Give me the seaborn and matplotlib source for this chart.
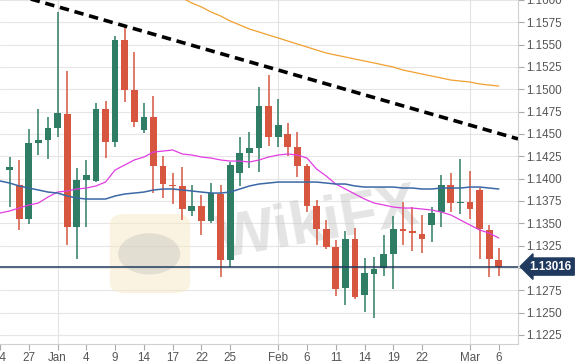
import numpy as np
import pandas as pd
import matplotlib
matplotlib.use("Agg")
import matplotlib.pyplot as plt
import matplotlib.transforms as mtransforms
from matplotlib.patches import FancyBboxPatch, Circle
import seaborn as sns

# ---------------- data ----------------
tick_pos = [0, 3, 6, 9, 12, 15, 18, 21, 24, 29, 32, 35, 38, 41, 44, 49, 52]
tick_labels = ["24", "27", "Jan", "4", "9", "14", "17", "22", "25", "Feb",
               "6", "11", "14", "19", "22", "Mar", "6"]
month_lines = [6, 29, 49]

candle_idx = list(range(1, 53))
opens = [1.14097, 1.13929, 1.13548, 1.14399, 1.14433, 1.14567, 1.14724, 1.13459, 1.13985, 1.13974,
         1.14780, 1.14410, 1.15552, 1.14992, 1.14545, 1.14690, 1.14141, 1.13929, 1.13918, 1.13638,
         1.13694, 1.13526, 1.13828, 1.13089, 1.14063, 1.14287, 1.14343, 1.14813, 1.14466, 1.14500,
         1.14354, 1.14141, 1.13694, 1.13436, 1.13235, 1.12776, 1.13324, 1.12697, 1.12932, 1.13000,
         1.13156, 1.13436, 1.13414, 1.13380, 1.13481, 1.13626, 1.13929, 1.13727, 1.13738, 1.13873,
         1.13425, 1.13089]
highs = [1.14242, 1.14209, 1.14556, 1.14780, 1.14690, 1.15866, 1.15205, 1.14119, 1.14209, 1.14847,
         1.14869, 1.15597, 1.15720, 1.15418, 1.14847, 1.14925, 1.14253, 1.14063, 1.14130, 1.13929,
         1.13817, 1.13951, 1.13929, 1.14186, 1.14466, 1.14522, 1.15026, 1.15160, 1.14892, 1.14623,
         1.14522, 1.14164, 1.13761, 1.13537, 1.13313, 1.13414, 1.13447, 1.13111, 1.13123, 1.13369,
         1.13582, 1.13738, 1.13682, 1.13593, 1.13682, 1.14041, 1.14063, 1.14220, 1.14086, 1.13890,
         1.13481, 1.13223]
lows = [1.13682, 1.13425, 1.13492, 1.14265, 1.14220, 1.14466, 1.13257, 1.13100, 1.13459, 1.13962,
        1.14231, 1.14354, 1.14858, 1.14578, 1.14511, 1.13839, 1.13783, 1.13716, 1.13537, 1.13582,
        1.13369, 1.13503, 1.12899, 1.13011, 1.13918, 1.14119, 1.14074, 1.14365, 1.14354, 1.14253,
        1.14018, 1.13626, 1.13257, 1.13212, 1.12686, 1.12585, 1.12652, 1.12507, 1.12440, 1.12910,
        1.12764, 1.13257, 1.13190, 1.13167, 1.13291, 1.13459, 1.13626, 1.13604, 1.13548, 1.13100,
        1.12899, 1.12910]
closes = [1.14130, 1.13548, 1.14399, 1.14433, 1.14567, 1.14735, 1.13459, 1.13985, 1.14041, 1.14780,
          1.14410, 1.15552, 1.14992, 1.14634, 1.14690, 1.14141, 1.13940, 1.13918, 1.13660, 1.13694,
          1.13526, 1.13839, 1.13089, 1.14153, 1.14287, 1.14343, 1.14813, 1.14466, 1.14601, 1.14354,
          1.14141, 1.13694, 1.13436, 1.13235, 1.12764, 1.13324, 1.12675, 1.12944, 1.12988, 1.13156,
          1.13436, 1.13414, 1.13391, 1.13324, 1.13615, 1.13929, 1.13727, 1.13738, 1.13660, 1.13436,
          1.13100, 1.13016]

ma_idx = list(range(0, 53))
ma_magenta = [1.13615, 1.13638, 1.13671, 1.13705, 1.13727, 1.13794, 1.13850, 1.13862, 1.13884, 1.13895,
              1.13918, 1.13962, 1.14097, 1.14153, 1.14209, 1.14242, 1.14298, 1.14309, 1.14321, 1.14276,
              1.14265, 1.14242, 1.14231, 1.14209, 1.14197, 1.14197, 1.14186, 1.14209, 1.14242, 1.14265,
              1.14276, 1.14265, 1.14231, 1.14108, 1.14030, 1.13940, 1.13884, 1.13828, 1.13772, 1.13727,
              1.13705, 1.13682, 1.13671, 1.13671, 1.13660, 1.13649, 1.13626, 1.13593, 1.13537, 1.13481,
              1.13425, 1.13391, 1.13335]
ma_blue = [1.13974, 1.13951, 1.13918, 1.13895, 1.13873, 1.13850, 1.13839, 1.13806, 1.13783, 1.13772,
           1.13772, 1.13772, 1.13806, 1.13828, 1.13839, 1.13850, 1.13873, 1.13884, 1.13884, 1.13873,
           1.13862, 1.13850, 1.13839, 1.13839, 1.13850, 1.13884, 1.13918, 1.13940, 1.13951, 1.13962,
           1.13962, 1.13962, 1.13962, 1.13962, 1.13951, 1.13940, 1.13940, 1.13918, 1.13906, 1.13906,
           1.13906, 1.13906, 1.13895, 1.13895, 1.13884, 1.13884, 1.13895, 1.13895, 1.13895, 1.13906,
           1.13906, 1.13895, 1.13884]
orange_idx = list(range(19, 53))
ma_orange = [1.16022, 1.15966, 1.15922, 1.15866, 1.15821, 1.15765, 1.15720, 1.15675, 1.15642, 1.15608,
             1.15575, 1.15541, 1.15507, 1.15474, 1.15440, 1.15407, 1.15384, 1.15362, 1.15339, 1.15317,
             1.15295, 1.15272, 1.15250, 1.15216, 1.15194, 1.15171, 1.15149, 1.15127, 1.15104, 1.15093,
             1.15082, 1.15060, 1.15048, 1.15037]
trend_x = [0, 54]
trend_y = [1.1611, 1.14445]
last_price = 1.13016
y_ticks = [1.1225, 1.1250, 1.1275, 1.1300, 1.1325, 1.1350, 1.1375, 1.1400, 1.1425,
           1.1450, 1.1475, 1.1500, 1.1525, 1.1550, 1.1575, 1.1600]

# ---------------- style ----------------
sns.set_theme(style="white")
plt.rcParams["font.family"] = ["Liberation Sans", "DejaVu Sans"]

GREEN = "#2e7d64"
RED = "#d65640"
NAVY = "#1f3a5e"
TXT = "#555555"

fig = plt.figure(figsize=(5.79, 3.64), dpi=100)
ax = fig.add_axes([0.0, 1 - 344 / 364, 518 / 579, 344 / 364])
ax.set_facecolor("#ffffff")

# grid
for yv in y_ticks:
    ax.axhline(yv, color="#e6e6e6", lw=0.8, zorder=0)
for xv in month_lines:
    ax.axvline(xv, color="#e3e3e3", lw=0.8, zorder=0)

# watermark
wm = FancyBboxPatch((0.212, 0.148), 0.155, 0.23, boxstyle="round,pad=0.0,rounding_size=0.03",
                    transform=ax.transAxes, facecolor="#f6e9c4", edgecolor="none",
                    alpha=0.5, zorder=0.5)
ax.add_patch(wm)
ax.add_patch(Circle((0.288, 0.262), 0.06, transform=ax.transAxes, facecolor="#b8b8b8",
                    edgecolor="none", alpha=0.35, zorder=0.6))
ax.text(0.615, 0.345, "WikiFX", transform=ax.transAxes, fontsize=44, fontweight="bold",
        color="#c4c4c4", alpha=0.45, rotation=10, ha="center", va="center", zorder=0.7)

# candles
df = pd.DataFrame({"i": candle_idx, "o": opens, "h": highs, "l": lows, "c": closes})
df["col"] = np.where(df["c"] >= df["o"], GREEN, RED)
df["bot"] = df[["o", "c"]].min(axis=1)
df["hgt"] = (df["o"] - df["c"]).abs().clip(lower=0.00014)
ax.vlines(df["i"], df["l"], df["h"], colors=df["col"], lw=1.1, zorder=2)
ax.bar(df["i"], df["hgt"], bottom=df["bot"], width=0.7, color=df["col"],
       edgecolor="none", zorder=3)

# moving averages
sns.lineplot(x=ma_idx, y=ma_magenta, color="#e23de2", lw=0.9, ax=ax, zorder=4)
sns.lineplot(x=ma_idx, y=ma_blue, color="#3b68a6", lw=1.1, ax=ax, zorder=4)
sns.lineplot(x=orange_idx, y=ma_orange, color="#f0a030", lw=0.9, ax=ax, zorder=4)

# trend line
ax.plot(trend_x, trend_y, color="black", lw=2.6, linestyle=(0, (2.6, 1.6)), zorder=5)

# last price line
ax.axhline(last_price, color=NAVY, lw=1.1, zorder=4)

ax.set_xlim(0.31, 54.0)
ax.set_ylim(1.12149, 1.1600)

ax.yaxis.tick_right()
ax.set_yticks(y_ticks)
# the 1.1300 label sits under the last-price tag in the reference
ax.set_yticklabels(["" if abs(v - 1.1300) < 1e-9 else f"{v:.4f}" for v in y_ticks])
ax.set_xticks(tick_pos)
ax.set_xticklabels(tick_labels)
ax.tick_params(axis="y", which="both", right=True, left=False, length=4, width=0.8,
               color="#aaaaaa", labelcolor=TXT, labelsize=8.4, pad=2)
ax.tick_params(axis="x", which="both", bottom=True, length=4, width=0.8,
               color="#aaaaaa", labelcolor=TXT, labelsize=8.4, pad=2)
for s in ["top", "left"]:
    ax.spines[s].set_visible(False)
for s in ["right", "bottom"]:
    ax.spines[s].set_color("#d0d0d0")
    ax.spines[s].set_linewidth(0.8)

# price tag
trans = mtransforms.blended_transform_factory(ax.transAxes, ax.transData)
ax.text(1.022, last_price, f"{last_price:.5f}", transform=trans, ha="left", va="center",
        fontsize=8.4, fontweight="bold", color="white", clip_on=False, zorder=10,
        bbox=dict(boxstyle="larrow,pad=0.22", facecolor=NAVY, edgecolor=NAVY))

ax.set_xlabel("")
ax.set_ylabel("")
fig.savefig("out.png", dpi=100)
